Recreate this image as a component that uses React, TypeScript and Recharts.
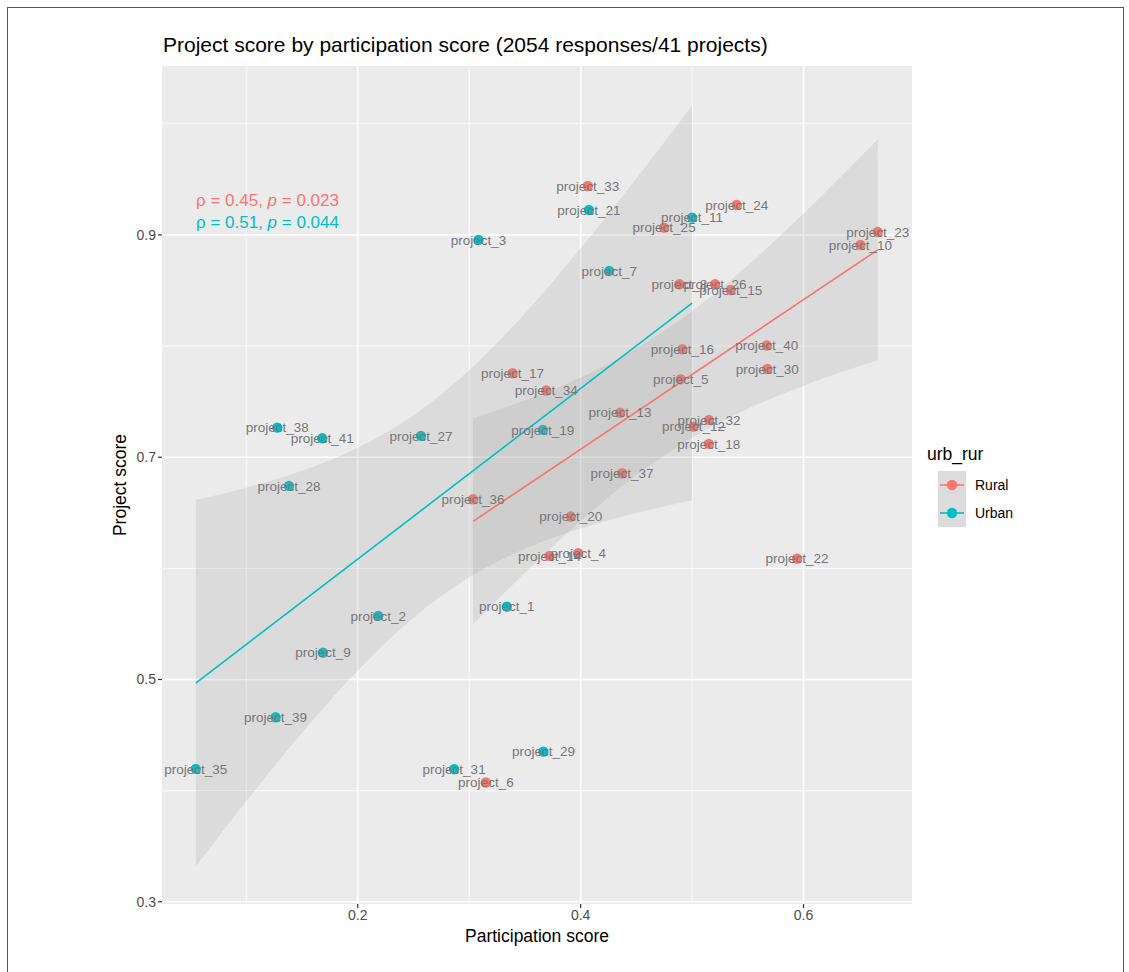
import React from 'react';
import { ComposedChart, Scatter, Area, Line, XAxis, YAxis, ReferenceLine, CartesianGrid } from 'recharts';

// participation score (x) / project score (y)
const ruralNames = ['project_33', 'project_25', 'project_24', 'project_23', 'project_10', 'project_8', 'project_26', 'project_15', 'project_16', 'project_40', 'project_30', 'project_5', 'project_34', 'project_13', 'project_32', 'project_12', 'project_18', 'project_37', 'project_20', 'project_4', 'project_14', 'project_22', 'project_17', 'project_36', 'project_6'];
const ruralX = [0.4064, 0.4749, 0.540, 0.6665, 0.651, 0.4886, 0.5206, 0.5347, 0.4913, 0.567, 0.5675, 0.4898, 0.3691, 0.4354, 0.5152, 0.5012, 0.515, 0.4372, 0.3912, 0.3978, 0.372, 0.5942, 0.3389, 0.3035, 0.315];
const ruralY = [0.944, 0.9066, 0.927, 0.9027, 0.891, 0.8556, 0.8556, 0.8505, 0.7972, 0.8005, 0.7794, 0.7702, 0.760, 0.740, 0.7336, 0.7275, 0.712, 0.6856, 0.6466, 0.6136, 0.6112, 0.6088, 0.7756, 0.6622, 0.4073];

const urbanNames = ['project_3', 'project_21', 'project_11', 'project_7', 'project_19', 'project_1', 'project_38', 'project_41', 'project_27', 'project_28', 'project_2', 'project_9', 'project_39', 'project_35', 'project_31', 'project_29'];
const urbanX = [0.3083, 0.4074, 0.500, 0.4256, 0.3661, 0.3338, 0.1278, 0.1682, 0.2567, 0.1383, 0.2184, 0.1688, 0.1263, 0.0547, 0.2865, 0.3666];
const urbanY = [0.8955, 0.9225, 0.9156, 0.8676, 0.7246, 0.5656, 0.7266, 0.717, 0.7192, 0.6742, 0.5572, 0.5242, 0.466, 0.4196, 0.4193, 0.4351];

// fitted lines and their confidence ribbons
const ruralFitX = [0.3035, 0.6665];
const ruralFitY = [0.6423, 0.8865];
const ruralBandX = [0.3035, 0.35, 0.4, 0.45, 0.5, 0.55, 0.6, 0.6665];
const ruralBandLow = [0.5498, 0.596, 0.6426, 0.6839, 0.7176, 0.7436, 0.7644, 0.7872];
const ruralBandHigh = [0.7348, 0.7512, 0.7718, 0.7979, 0.8314, 0.8726, 0.9192, 0.9858];

const urbanFitX = [0.0547, 0.5];
const urbanFitY = [0.4967, 0.8387];
const urbanBandX = [0.0547, 0.1, 0.15, 0.2, 0.25, 0.3, 0.35, 0.4, 0.45, 0.5];
const urbanBandLow = [0.3318, 0.3904, 0.452, 0.5081, 0.5556, 0.5919, 0.6176, 0.6359, 0.6498, 0.661];
const urbanBandHigh = [0.6616, 0.6726, 0.6878, 0.7085, 0.7378, 0.7783, 0.8294, 0.8879, 0.9508, 1.0164];

const xTicks = [0.2, 0.4, 0.6];
const xMinor = [0.1, 0.3, 0.5];
const yTicks = [0.3, 0.5, 0.7, 0.9];
const yMinor = [0.4, 0.6, 0.8, 1.0];

const RURAL = '#F8766D';
const URBAN = '#00BFC4';
const FONT = '"Liberation Sans", Arial, Helvetica, sans-serif';

const toPoints = (names: string[], xs: number[], ys: number[]) => names.map((name, i) => ({ name, x: xs[i], y: ys[i] }));
const toBand = (xs: number[], lo: number[], hi: number[]) => xs.map((x, i) => ({ x, range: [lo[i], hi[i]] }));
const toLine = (xs: number[], ys: number[]) => xs.map((x, i) => ({ x, y: ys[i] }));

const rural = toPoints(ruralNames, ruralX, ruralY);
const urban = toPoints(urbanNames, urbanX, urbanY);

const dot = (color: string) => (p: any) => <circle cx={p.cx} cy={p.cy} r={5.2} fill={color} />;
const label = (p: any) => (
  <text x={p.cx} y={p.cy} dy="0.35em" textAnchor="middle" fontSize={13.5} fill="#777" fontFamily={FONT}>
    {p.payload.name}
  </text>
);

export default function App() {
  return (
    <div style={{ position: 'absolute', left: 0, top: 0, width: 1129, height: 972, background: '#fff', fontFamily: FONT }}>
      <div style={{ position: 'absolute', left: 7, top: 7, width: 1115, height: 965, border: '1.5px solid #555', borderBottom: 'none' }} />
      <div style={{ position: 'absolute', left: 163, top: 33, fontSize: 21, color: '#000', whiteSpace: 'nowrap' }}>
        Project score by participation score (2054 responses/41 projects)
      </div>

      <ComposedChart width={1129} height={972} margin={{ top: 66, right: 217, bottom: 38, left: 122 }} style={{ position: 'absolute', left: 0, top: 0 }}>
        <CartesianGrid fill="#EBEBEB" stroke="none" horizontal={false} vertical={false} zIndex={-100} />
        <XAxis
          type="number"
          dataKey="x"
          domain={[0.0244, 0.6973]}
          allowDataOverflow
          ticks={xTicks}
          tickFormatter={(v: number) => v.toFixed(1)}
          axisLine={false}
          tickLine={{ stroke: '#333', strokeWidth: 1.2 }}
          tickSize={4}
          height={30}
          tick={{ fontSize: 14, fill: '#4D4D4D', fontFamily: FONT }}
        />
        <YAxis
          type="number"
          domain={[0.298, 1.052]}
          allowDataOverflow
          ticks={yTicks}
          tickFormatter={(v: number) => v.toFixed(1)}
          axisLine={false}
          tickLine={{ stroke: '#333', strokeWidth: 1.2 }}
          tickSize={4}
          width={40}
          tick={{ fontSize: 14, fill: '#4D4D4D', fontFamily: FONT }}
        />
        {xMinor.map(v => <ReferenceLine key={'xm' + v} x={v} stroke="#fff" strokeWidth={0.8} zIndex={-50} />)}
        {yMinor.map(v => <ReferenceLine key={'ym' + v} y={v} stroke="#fff" strokeWidth={0.8} zIndex={-50} />)}
        {xTicks.map(v => <ReferenceLine key={'x' + v} x={v} stroke="#fff" strokeWidth={1.6} zIndex={-50} />)}
        {yTicks.map(v => <ReferenceLine key={'y' + v} y={v} stroke="#fff" strokeWidth={1.6} zIndex={-50} />)}

        <Scatter data={rural} dataKey="y" shape={dot(RURAL)} isAnimationActive={false} zIndex={100} />
        <Scatter data={urban} dataKey="y" shape={dot(URBAN)} isAnimationActive={false} zIndex={100} />

        <Area data={toBand(urbanBandX, urbanBandLow, urbanBandHigh)} dataKey="range" type="monotone" fill="#999" fillOpacity={0.2} stroke="none" isAnimationActive={false} zIndex={200} />
        <Area data={toBand(ruralBandX, ruralBandLow, ruralBandHigh)} dataKey="range" type="monotone" fill="#999" fillOpacity={0.2} stroke="none" isAnimationActive={false} zIndex={200} />
        <Line data={toLine(urbanFitX, urbanFitY)} dataKey="y" stroke={URBAN} strokeWidth={1.6} dot={false} isAnimationActive={false} zIndex={300} />
        <Line data={toLine(ruralFitX, ruralFitY)} dataKey="y" stroke={RURAL} strokeWidth={1.6} dot={false} isAnimationActive={false} zIndex={300} />

        <Scatter data={rural} dataKey="y" shape={label} isAnimationActive={false} zIndex={400} />
        <Scatter data={urban} dataKey="y" shape={label} isAnimationActive={false} zIndex={400} />
      </ComposedChart>

      <div style={{ position: 'absolute', left: 196, top: 190, fontSize: 17, color: RURAL, whiteSpace: 'nowrap', lineHeight: '22px' }}>
        ρ = 0.45, <i>p</i> = 0.023
      </div>
      <div style={{ position: 'absolute', left: 196, top: 212, fontSize: 17, color: URBAN, whiteSpace: 'nowrap', lineHeight: '22px' }}>
        ρ = 0.51, <i>p</i> = 0.044
      </div>

      <div style={{ position: 'absolute', left: 0, width: 1074, top: 926, textAlign: 'center', fontSize: 17.5, color: '#000' }}>
        Participation score
      </div>
      <div style={{ position: 'absolute', left: 120, top: 485, transform: 'translate(-50%, -50%) rotate(-90deg)', fontSize: 17.5, color: '#000', whiteSpace: 'nowrap' }}>
        Project score
      </div>

      <div style={{ position: 'absolute', left: 927, top: 444, fontSize: 17.5, color: '#000' }}>urb_rur</div>
      {[{ name: 'Rural', color: RURAL }, { name: 'Urban', color: URBAN }].map((k, i) => (
        <div key={k.name} style={{ position: 'absolute', left: 938, top: 471 + i * 28, height: 28, display: 'flex', alignItems: 'center' }}>
          <svg width={28} height={28} style={{ display: 'block' }}>
            <rect x={0} y={0} width={28} height={28} fill="#DCDCDC" />
            <line x1={2} x2={26} y1={14} y2={14} stroke={k.color} strokeWidth={1.6} />
            <circle cx={14} cy={14} r={5.2} fill={k.color} />
          </svg>
          <span style={{ marginLeft: 9, fontSize: 14, color: '#000' }}>{k.name}</span>
        </div>
      ))}
    </div>
  );
}
